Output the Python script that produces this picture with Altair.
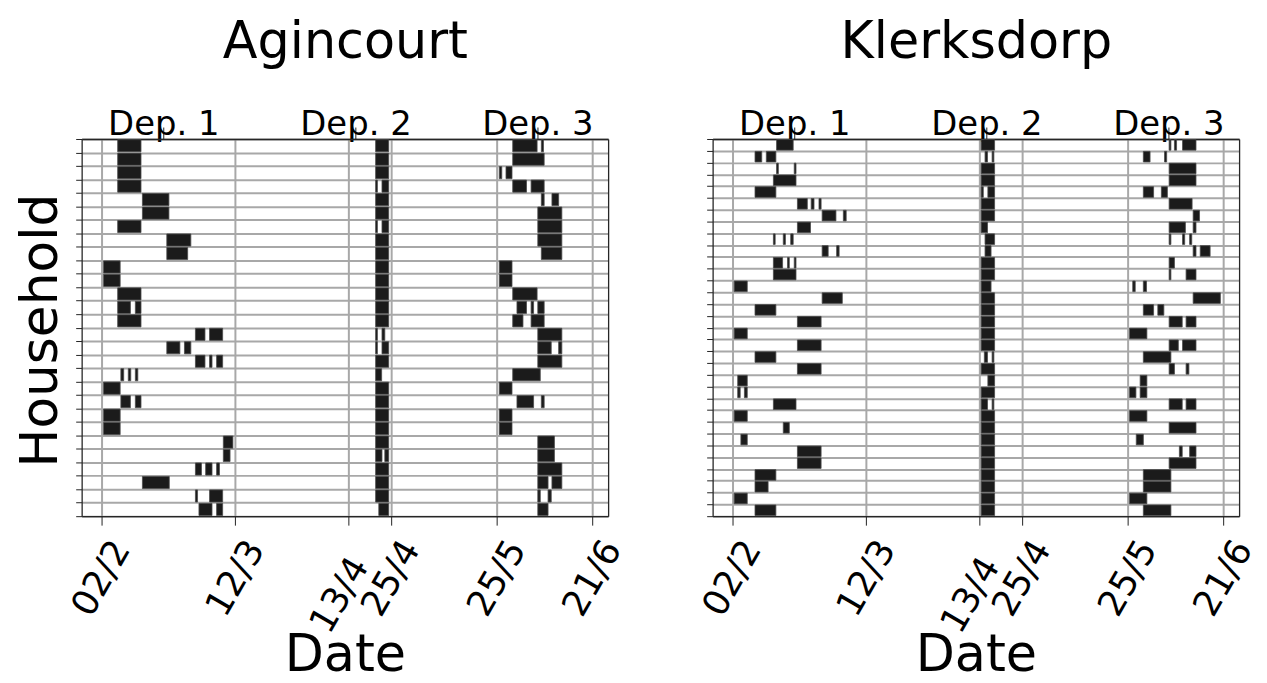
import altair as alt
import pandas as pd

PANELS = ["Agincourt", "Klerksdorp"]
TICK_DAYS = [0, 38, 70, 82, 112, 139]
TICK_LABELS = ["02/2", "12/3", "13/4", "25/4", "25/5", "21/6"]
DEP_DAYS = [17.6, 72.0, 123.5]
DEP_LABELS = ["Dep. 1", "Dep. 2", "Dep. 3"]
X_DOMAIN = [-5.5, 143.5]

# Days after 02/2; one list of (start, end) segments per household row (top to bottom)
AGI_DEP1 = [
    [(4.7, 11.3)], [(4.7, 11.3)], [(4.7, 11.3)], [(4.7, 11.3)],
    [(11.7, 19.2)], [(11.7, 19.2)], [(4.7, 11.3)], [(18.6, 25.4)],
    [(18.6, 24.5)], [(0.7, 5.4)], [(0.7, 5.4)], [(4.7, 11.3)],
    [(4.7, 8.3), (9.7, 11.3)], [(4.7, 11.3)],
    [(26.7, 29.4), (30.7, 34.4)], [(18.6, 22.3), (23.6, 25.4)],
    [(26.7, 29.4), (30.7, 31.4), (32.7, 34.4)],
    [(5.6, 6.4), (7.7, 8.4), (9.7, 10.4)], [(0.7, 5.4)],
    [(5.6, 8.3), (9.7, 11.3)], [(0.7, 5.4)], [(0.7, 5.4)],
    [(34.6, 37.3)], [(34.6, 36.5)],
    [(26.7, 28.4), (29.6, 31.4), (32.7, 33.5)], [(11.7, 19.3)],
    [(26.7, 27.3), (30.7, 34.4)], [(27.7, 31.4), (32.7, 34.4)],
]
AGI_DEP2 = [
    [(77.7, 81.4)], [(77.7, 81.4)], [(77.7, 81.4)], [(77.7, 78.2), (79.5, 81.4)],
    [(77.7, 81.4)], [(77.7, 81.4)], [(77.7, 78.2), (79.5, 81.4)], [(77.7, 81.4)],
    [(77.7, 81.4)], [(77.7, 81.4)], [(77.7, 81.4)], [(77.7, 81.4)],
    [(77.7, 81.4)], [(77.7, 81.4)], [(77.7, 78.2), (79.5, 80.3)], [(77.7, 78.2), (79.5, 81.4)],
    [(77.7, 81.4)], [(77.7, 79.4)], [(77.7, 81.4)], [(77.7, 81.4)],
    [(77.7, 81.4)], [(77.7, 81.4)], [(77.7, 81.4)], [(77.7, 79.5), (80.3, 81.4)],
    [(77.7, 81.4)], [(77.7, 81.4)], [(77.7, 81.4)], [(78.6, 81.4)],
]
AGI_DEP3 = [
    [(116.5, 123.4), (124.6, 125.2)], [(116.5, 125.4)],
    [(112.7, 113.4), (114.6, 116.3)], [(116.5, 120.4), (121.7, 125.4)],
    [(124.6, 125.4), (127.6, 129.5)], [(123.6, 130.4)], [(123.6, 130.4)], [(123.6, 130.4)],
    [(124.6, 130.4)], [(112.7, 116.3)], [(112.7, 116.3)], [(116.5, 123.4)],
    [(117.7, 120.4), (121.7, 122.4), (123.6, 125.4)], [(116.5, 119.4), (121.7, 125.4)],
    [(123.6, 130.4)], [(123.6, 127.4), (129.5, 130.4)],
    [(123.6, 130.4)], [(116.5, 124.3)], [(112.7, 116.3)], [(117.7, 122.4), (124.6, 125.4)],
    [(112.7, 116.3)], [(112.7, 116.3)], [(123.6, 128.3)], [(123.6, 128.3)],
    [(123.6, 130.4)], [(123.6, 126.5), (127.6, 130.4)], [(123.6, 124.3), (126.5, 127.4)],
    [(123.6, 126.5)],
]

KLE_DEP1 = [
    [(12.6, 17.3)], [(6.5, 8.4), (9.7, 12.4)], [(12.6, 13.1), (17.6, 18.1)], [(11.7, 18.1)],
    [(6.5, 12.4)], [(18.5, 21.3), (22.4, 23.2), (24.6, 25.2)], [(25.5, 29.4), (31.5, 32.3)],
    [(18.5, 22.2)], [(11.7, 12.2), (14.5, 15.1), (16.6, 17.3)], [(25.5, 27.2), (29.6, 30.3)],
    [(11.7, 14.3), (15.7, 16.2), (17.6, 18.1)], [(11.7, 18.1)], [(0.6, 4.3)], [(25.5, 31.2)],
    [(6.5, 12.4)], [(18.5, 25.2)], [(0.6, 4.3)], [(18.5, 25.2)], [(6.5, 12.4)], [(18.5, 25.2)],
    [(1.6, 4.3)], [(1.6, 2.3), (3.5, 4.3)], [(11.7, 18.1)], [(0.6, 4.3)], [(14.5, 16.2)],
    [(2.5, 4.3)], [(18.5, 25.2)], [(18.5, 25.2)], [(6.5, 12.4)], [(6.5, 10.2)], [(0.6, 4.3)],
    [(6.5, 12.4)],
]
KLE_DEP2 = [
    [(70.5, 74.3)], [(71.6, 72.3), (73.6, 74.1)], [(70.5, 74.3)], [(70.5, 74.3)],
    [(70.5, 71.1), (72.4, 74.3)], [(70.5, 74.3)], [(70.5, 74.3)], [(70.5, 72.3)],
    [(71.6, 74.3)], [(71.6, 73.3)], [(70.5, 74.3)], [(70.5, 74.3)],
    [(70.5, 73.3)], [(70.5, 74.3)], [(70.5, 74.3)], [(70.5, 74.3)],
    [(70.5, 74.3)], [(70.5, 74.3)], [(71.4, 72.3), (73.6, 74.1)], [(70.5, 74.3)],
    [(72.4, 74.3)], [(70.5, 74.3)], [(70.5, 72.3), (73.6, 74.1)], [(70.5, 74.3)],
    [(70.5, 74.3)], [(70.5, 74.3)], [(70.5, 74.3)], [(70.5, 74.3)],
    [(70.5, 74.3)], [(70.5, 74.3)], [(70.5, 74.3)], [(70.5, 74.3)],
]
KLE_DEP3 = [
    [(123.7, 124.2), (125.2, 125.8), (127.5, 131.3)], [(116.4, 118.3), (122.4, 123.0)],
    [(123.7, 131.3)], [(123.7, 131.3)], [(116.4, 119.3), (121.5, 123.2)], [(123.7, 130.2)],
    [(130.5, 132.3)], [(123.7, 128.3), (130.5, 131.3)],
    [(123.7, 124.2), (127.5, 128.1), (129.5, 130.1)], [(130.5, 131.3), (132.5, 135.3)],
    [(123.7, 125.2)], [(123.7, 124.2), (128.5, 131.3)], [(113.4, 114.1), (116.4, 117.3)],
    [(130.5, 138.2)], [(116.4, 119.3), (120.5, 122.2)], [(123.7, 127.4), (128.5, 131.3)],
    [(112.5, 117.4)], [(123.7, 126.3), (127.5, 131.3)], [(116.4, 124.2)],
    [(123.7, 125.2), (128.5, 129.3)], [(115.5, 117.4)], [(112.5, 114.3), (115.5, 117.4)],
    [(123.7, 127.4), (128.5, 131.3)], [(112.5, 117.4)], [(123.7, 131.3)], [(114.4, 116.4)],
    [(126.6, 127.4), (129.5, 131.3)], [(123.7, 131.3)], [(116.4, 124.2)], [(116.4, 124.2)],
    [(112.5, 117.4)], [(116.4, 124.2)],
]

PANEL_DATA = {
    "Agincourt": [AGI_DEP1, AGI_DEP2, AGI_DEP3],
    "Klerksdorp": [KLE_DEP1, KLE_DEP2, KLE_DEP3],
}

FONT = "DejaVu Sans"
GRID = "#a8a8a8"
FRAME = "#262626"
PLOT_W, PLOT_H = 529, 379


def label_expr(values, labels):
    expr = "''"
    for v, lab in reversed(list(zip(values, labels))):
        expr = f"abs(datum.value - {v}) < 0.01 ? '{lab}' : ({expr})"
    return expr


def panel(name, show_ytitle):
    deps = PANEL_DATA[name]
    n = len(deps[0])
    rows = []
    for dep in deps:
        for i, segs in enumerate(dep):
            for s, e in segs:
                rows.append({"row": i + 0.05, "row2": i + 0.95, "start": s, "end": e})
    df = pd.DataFrame(rows)

    xscale = alt.Scale(domain=X_DOMAIN, nice=False, zero=False)
    yscale = alt.Scale(domain=[0, n], nice=False, zero=False, reverse=True)

    x_axis = alt.Axis(
        values=TICK_DAYS, labelExpr=label_expr(TICK_DAYS, TICK_LABELS),
        labelAngle=300, labelAlign="center", labelBaseline="middle",
        labelFontSize=36, labelFont=FONT, labelColor="black",
        labelPadding={"condition": {"test": "datum.value == 70", "value": 70}, "value": 53},
        labelOffset={"condition": {"test": "datum.value == 70", "value": -9}, "value": 0},
        labelOverlap=False, labelFlush=False, labelBound=False,
        tickSize=9, tickColor="#222", tickWidth=1,
        grid=True, gridColor=GRID, gridWidth=2,
        domain=True, domainColor=FRAME, domainWidth=1.3,
        title="Date", titleFontSize=51, titleFont=FONT, titleFontWeight="normal",
        titleColor="black", titleX=PLOT_W / 2, titleY=155,
        titleBaseline="alphabetic", titleAlign="center", titleAngle=0,
    )
    y_kwargs = dict(
        values=list(range(n + 1)), labels=False, tickSize=6, tickColor="#222",
        grid=True, gridColor=GRID, gridWidth=2,
        domain=True, domainColor=FRAME, domainWidth=1.3, minExtent=0,
    )
    if show_ytitle:
        y_kwargs.update(
            title="Household", titleFontSize=52, titleFont=FONT,
            titleFontWeight="normal", titleColor="black", titleAngle=270,
            titleX=-25, titleY=192, titleBaseline="alphabetic", titleAlign="center",
        )
    else:
        y_kwargs.update(title=None)
    y_axis = alt.Axis(**y_kwargs)

    bars = alt.Chart(df).mark_rect(
        color="#1b1b1b", stroke="#4a4a4a", strokeWidth=0.8
    ).encode(
        x=alt.X("start:Q", scale=xscale, axis=x_axis),
        x2="end:Q",
        y=alt.Y("row:Q", scale=yscale, axis=y_axis),
        y2="row2:Q",
    )

    # right-hand frame line
    right_frame = alt.Chart(df).mark_rule(opacity=0).encode(
        y=alt.Y("row:Q", scale=yscale, axis=alt.Axis(
            orient="right", labels=False, ticks=False, grid=False, title=None,
            domain=True, domainColor=FRAME, domainWidth=1.3,
            minExtent=0, maxExtent=0, labelPadding=0, titlePadding=0)),
    )

    dep_df = pd.DataFrame({"pos": DEP_DAYS, "label": DEP_LABELS})
    top_axis = alt.Axis(
        orient="top", values=DEP_DAYS, labelExpr=label_expr(DEP_DAYS, DEP_LABELS),
        labelAngle=0, labelAlign="center", labelBaseline="alphabetic",
        labelFontSize=34, labelFont=FONT, labelColor="black", labelPadding=-7,
        labelOverlap=False, labelFlush=False,
        tickSize=12, tickColor="#222", grid=False,
        domain=True, domainColor=FRAME, domainWidth=1.3,
        title=name, titleFontSize=51, titleFont=FONT, titleFontWeight="normal",
        titleColor="black", titleX=PLOT_W / 2, titleY=-82,
        titleBaseline="alphabetic", titleAlign="center", titleAngle=0,
    )
    deps_layer = alt.Chart(dep_df).mark_rule(opacity=0).encode(
        x=alt.X("pos:Q", scale=xscale, axis=top_axis)
    )

    return alt.layer(bars, deps_layer, right_frame).resolve_axis(
        x="independent", y="independent"
    ).properties(width=PLOT_W, height=PLOT_H)


chart = alt.hconcat(
    panel("Agincourt", True), panel("Klerksdorp", False), spacing=105, bounds="flush"
).properties(
    padding={"left": 6, "top": 7, "right": 0, "bottom": 0}
).configure(
    background="white"
).configure_view(
    stroke=None
)

chart.save("out.html", embed_options={"renderer": "svg", "actions": False})
